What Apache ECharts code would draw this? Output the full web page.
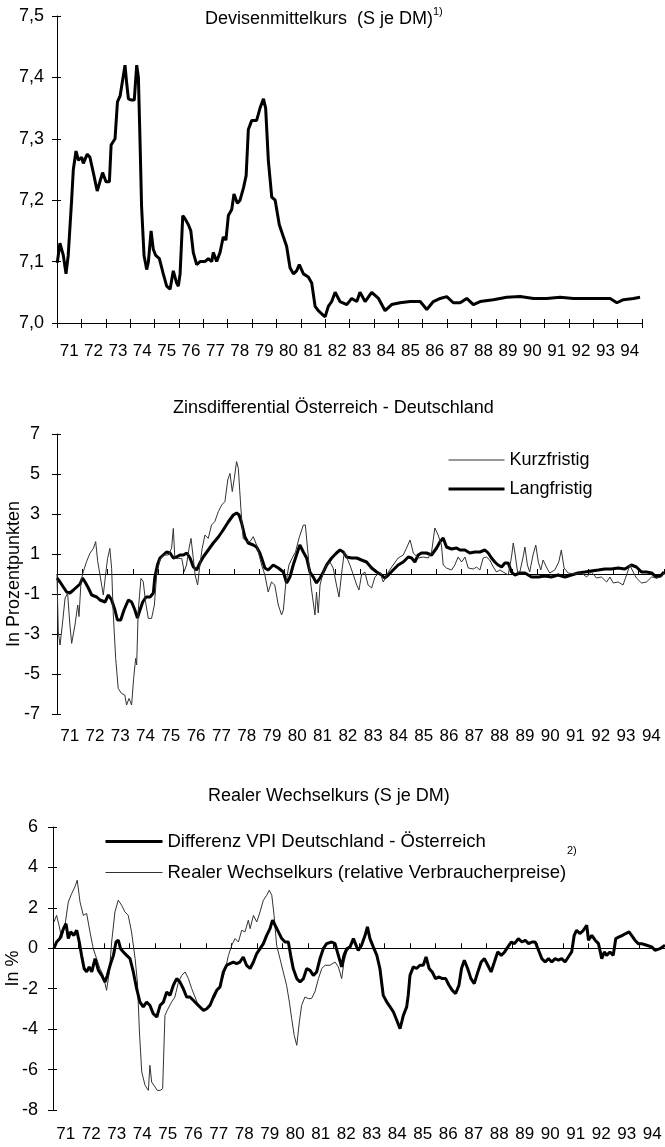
<!DOCTYPE html>
<html>
<head>
<meta charset="utf-8">
<script src="https://cdn.jsdelivr.net/npm/echarts@6/dist/echarts.min.js"></script>
<style>
html,body{margin:0;padding:0;background:#fff;}
#chart{width:665px;height:1147px;}
</style>
</head>
<body>
<div id="chart"></div>
<script>
// ---------- tick labels ----------
const yearLabels = ['71','72','73','74','75','76','77','78','79','80','81','82','83','84','85','86','87','88','89','90','91','92','93','94'];

// ---------- Panel 1: Devisenmittelkurs (S je DM) ----------
const devT = [1971.01,1971.12,1971.26,1971.37,1971.46,1971.60,1971.67,1971.78,1971.88,1972.01,1972.08,1972.24,1972.35,1972.49,1972.65,1972.76,1972.87,1973.01,1973.15,1973.22,1973.38,1973.48,1973.59,1973.69,1973.79,1973.86,1973.93,1974.06,1974.17,1974.27,1974.34,1974.41,1974.47,1974.57,1974.68,1974.75,1974.86,1974.95,1975.05,1975.20,1975.36,1975.50,1975.64,1975.77,1975.91,1975.98,1976.05,1976.16,1976.25,1976.39,1976.49,1976.59,1976.73,1976.87,1977.07,1977.21,1977.35,1977.41,1977.55,1977.69,1977.82,1977.93,1978.03,1978.17,1978.26,1978.40,1978.51,1978.65,1978.76,1978.85,1978.99,1979.19,1979.33,1979.47,1979.56,1979.67,1979.81,1979.95,1980.12,1980.29,1980.42,1980.56,1980.70,1980.83,1980.94,1981.11,1981.31,1981.45,1981.59,1981.72,1981.86,1982.00,1982.13,1982.27,1982.41,1982.61,1982.89,1983.09,1983.30,1983.43,1983.64,1983.91,1984.19,1984.46,1984.73,1985.07,1985.49,1985.90,1986.17,1986.44,1986.72,1986.99,1987.26,1987.54,1987.81,1988.08,1988.36,1988.90,1989.45,1990.00,1990.55,1991.09,1991.64,1992.19,1992.73,1993.28,1993.69,1993.97,1994.24,1994.65,1994.92];
const devV = [7.098,7.13,7.11,7.08,7.11,7.20,7.25,7.28,7.265,7.27,7.26,7.275,7.27,7.245,7.215,7.23,7.245,7.23,7.23,7.29,7.30,7.36,7.37,7.395,7.42,7.39,7.365,7.363,7.363,7.42,7.40,7.29,7.19,7.11,7.087,7.10,7.15,7.12,7.11,7.105,7.08,7.06,7.055,7.085,7.065,7.06,7.08,7.175,7.17,7.16,7.15,7.115,7.095,7.10,7.10,7.105,7.10,7.115,7.10,7.115,7.14,7.135,7.175,7.185,7.21,7.195,7.20,7.22,7.24,7.315,7.33,7.33,7.35,7.365,7.35,7.265,7.205,7.20,7.16,7.14,7.125,7.09,7.08,7.085,7.095,7.08,7.075,7.065,7.027,7.02,7.015,7.01,7.027,7.035,7.05,7.035,7.03,7.04,7.035,7.05,7.035,7.05,7.04,7.02,7.03,7.033,7.035,7.035,7.022,7.035,7.04,7.043,7.033,7.033,7.04,7.03,7.035,7.038,7.042,7.043,7.04,7.04,7.042,7.04,7.04,7.04,7.04,7.033,7.038,7.04,7.042];

// ---------- Panel 2: Zinsdifferential Österreich - Deutschland ----------
const kurzT = [1971.00,1971.05,1971.12,1971.21,1971.32,1971.42,1971.51,1971.58,1971.71,1971.82,1971.87,1971.95,1972.04,1972.17,1972.30,1972.44,1972.53,1972.61,1972.70,1972.83,1972.92,1973.00,1973.09,1973.16,1973.22,1973.32,1973.42,1973.55,1973.68,1973.75,1973.85,1973.95,1974.03,1974.11,1974.15,1974.21,1974.32,1974.41,1974.50,1974.61,1974.74,1974.85,1974.94,1975.07,1975.20,1975.40,1975.53,1975.60,1975.66,1975.80,1975.93,1976.03,1976.12,1976.22,1976.30,1976.39,1976.46,1976.56,1976.65,1976.74,1976.85,1976.98,1977.11,1977.24,1977.38,1977.51,1977.64,1977.75,1977.84,1977.93,1978.01,1978.10,1978.17,1978.27,1978.36,1978.50,1978.63,1978.76,1978.89,1978.96,1979.09,1979.22,1979.35,1979.48,1979.61,1979.75,1979.88,1979.95,1980.04,1980.17,1980.30,1980.43,1980.57,1980.74,1980.82,1980.93,1981.04,1981.13,1981.20,1981.26,1981.33,1981.40,1981.53,1981.66,1981.79,1981.92,1982.05,1982.15,1982.26,1982.36,1982.45,1982.58,1982.72,1982.85,1982.94,1983.04,1983.17,1983.30,1983.44,1983.57,1983.77,1983.90,1984.10,1984.29,1984.49,1984.69,1984.82,1984.96,1985.09,1985.28,1985.48,1985.68,1985.81,1985.94,1986.07,1986.20,1986.27,1986.40,1986.60,1986.73,1986.86,1987.00,1987.13,1987.26,1987.46,1987.59,1987.72,1987.85,1987.98,1988.11,1988.25,1988.38,1988.51,1988.64,1988.84,1988.97,1989.04,1989.10,1989.21,1989.30,1989.43,1989.50,1989.60,1989.69,1989.82,1989.93,1990.03,1990.13,1990.22,1990.35,1990.48,1990.68,1990.84,1990.94,1991.05,1991.21,1991.47,1991.74,1991.94,1992.13,1992.33,1992.53,1992.73,1992.86,1992.99,1993.19,1993.38,1993.52,1993.65,1993.78,1993.91,1994.11,1994.31,1994.51,1994.70,1994.90,1995.00];
const kurzV = [0.0,-2.9,-3.55,-2.55,-1.2,-0.97,-2.55,-3.47,-2.55,-1.55,-2.13,-0.38,0.12,0.62,1.03,1.28,1.62,0.62,-0.05,-1.05,-0.05,0.78,1.28,0.28,-1.88,-4.22,-5.72,-5.97,-6.05,-6.55,-6.22,-6.55,-5.22,-4.22,-4.55,-1.88,-0.22,-0.38,-1.38,-2.22,-2.22,-1.55,-0.05,0.7,0.95,0.95,1.28,2.28,0.78,0.78,0.78,0.12,0.45,1.28,1.78,0.78,-0.05,-0.55,0.45,1.28,1.95,1.78,2.45,2.62,3.12,3.45,3.62,4.7,5.03,4.12,4.78,5.62,5.28,3.28,1.78,1.62,1.62,1.87,1.45,1.1,0.45,-0.05,-0.9,-0.4,-0.55,-1.55,-2.05,-1.8,-0.55,0.45,0.8,1.1,1.8,2.45,2.45,0.95,-0.55,-1.4,-2.05,-0.9,-1.95,-0.55,0.1,0.45,0.6,0.3,-0.55,-1.15,0.1,1.1,0.85,0.45,-0.05,-0.55,-0.8,-0.05,0.1,-0.55,-0.7,-0.15,0.1,-0.4,0.1,0.45,0.8,0.95,1.3,1.7,1.05,0.8,0.85,0.8,1.1,2.3,1.95,1.45,0.45,0.3,0.2,0.45,0.85,0.6,0.85,0.3,0.25,0.35,0.2,0.8,0.85,0.7,0.35,0.1,0.2,0.1,-0.05,0.85,1.55,1.1,0.1,0.1,0.85,1.35,0.45,0.1,0.95,1.45,0.6,0.2,0.7,0.35,0.05,0.2,0.6,1.2,0.3,0.05,0.0,0.05,-0.15,0.1,-0.2,-0.15,-0.4,-0.15,-0.45,-0.4,-0.55,-0.05,0.45,0.1,-0.2,-0.45,-0.4,-0.15,-0.2,-0.15,0.05];

const langT = [1971.00,1971.12,1971.25,1971.38,1971.51,1971.65,1971.78,1971.91,1972.01,1972.11,1972.24,1972.37,1972.57,1972.70,1972.90,1973.03,1973.16,1973.29,1973.39,1973.52,1973.65,1973.82,1973.95,1974.08,1974.18,1974.28,1974.39,1974.52,1974.68,1974.81,1974.87,1974.97,1975.07,1975.20,1975.33,1975.47,1975.60,1975.73,1975.86,1976.00,1976.13,1976.26,1976.39,1976.52,1976.65,1976.78,1976.98,1977.18,1977.38,1977.57,1977.77,1977.97,1978.10,1978.20,1978.30,1978.43,1978.56,1978.76,1978.89,1979.02,1979.09,1979.22,1979.35,1979.55,1979.75,1979.95,1980.08,1980.21,1980.34,1980.47,1980.60,1980.74,1980.87,1981.00,1981.13,1981.26,1981.40,1981.53,1981.66,1981.86,1982.05,1982.19,1982.32,1982.45,1982.65,1982.85,1983.04,1983.24,1983.44,1983.64,1983.83,1983.96,1984.10,1984.29,1984.49,1984.69,1984.89,1985.02,1985.15,1985.28,1985.41,1985.61,1985.81,1986.01,1986.14,1986.27,1986.40,1986.60,1986.80,1986.93,1987.13,1987.32,1987.52,1987.72,1987.92,1988.05,1988.18,1988.31,1988.44,1988.58,1988.71,1988.84,1988.97,1989.10,1989.30,1989.50,1989.76,1990.03,1990.29,1990.55,1990.81,1991.08,1991.34,1991.60,1991.87,1992.13,1992.40,1992.66,1992.92,1993.19,1993.45,1993.71,1993.91,1994.11,1994.31,1994.51,1994.70,1994.90,1995.00];
const langV = [-0.2,-0.4,-0.65,-0.9,-0.95,-0.8,-0.65,-0.5,-0.2,-0.4,-0.7,-1.05,-1.15,-1.3,-1.4,-1.05,-1.3,-1.8,-2.3,-2.3,-1.8,-1.3,-1.4,-1.8,-2.2,-1.8,-1.4,-1.15,-1.15,-0.95,-0.15,0.45,0.8,0.95,1.1,1.05,0.8,0.85,0.95,0.95,1.05,0.8,0.35,0.2,0.55,0.85,1.2,1.55,1.85,2.2,2.6,2.95,3.05,2.95,2.55,1.85,1.55,1.45,1.35,1.05,0.8,0.3,0.2,0.45,0.3,0.1,-0.45,-0.15,0.45,0.95,1.45,1.1,0.8,0.1,-0.15,-0.45,-0.2,0.1,0.45,0.8,1.05,1.2,1.1,0.85,0.8,0.8,0.7,0.6,0.3,0.1,-0.05,-0.2,-0.05,0.2,0.45,0.6,0.85,0.8,0.6,0.95,1.05,1.05,0.95,1.3,1.6,1.8,1.35,1.25,1.3,1.2,1.2,1.05,1.1,1.1,1.2,1.05,0.8,0.6,0.45,0.35,0.55,0.55,0.1,-0.05,0.05,0.05,-0.15,-0.15,-0.1,-0.15,-0.05,-0.15,-0.05,0.05,0.1,0.15,0.2,0.25,0.25,0.3,0.25,0.45,0.35,0.1,0.1,0.05,-0.15,-0.05,0.1];

// ---------- Panel 3: Realer Wechselkurs (S je DM) ----------
const vpiT = [1971.04,1971.14,1971.27,1971.41,1971.51,1971.60,1971.69,1971.82,1971.93,1972.03,1972.12,1972.22,1972.32,1972.42,1972.52,1972.65,1972.78,1972.91,1973.04,1973.13,1973.24,1973.37,1973.47,1973.56,1973.65,1973.76,1973.89,1974.02,1974.15,1974.28,1974.41,1974.54,1974.67,1974.80,1974.93,1975.07,1975.20,1975.33,1975.46,1975.59,1975.72,1975.85,1975.98,1976.11,1976.24,1976.37,1976.50,1976.63,1976.76,1976.90,1977.03,1977.16,1977.29,1977.42,1977.55,1977.68,1977.81,1977.94,1978.07,1978.20,1978.33,1978.46,1978.59,1978.73,1978.86,1978.99,1979.12,1979.25,1979.38,1979.51,1979.61,1979.71,1979.84,1979.97,1980.10,1980.23,1980.32,1980.42,1980.56,1980.69,1980.82,1980.95,1981.08,1981.21,1981.34,1981.47,1981.60,1981.73,1981.93,1982.06,1982.19,1982.32,1982.41,1982.52,1982.65,1982.78,1982.91,1982.97,1983.10,1983.24,1983.33,1983.43,1983.56,1983.70,1983.82,1983.95,1984.09,1984.22,1984.35,1984.48,1984.61,1984.74,1984.87,1984.93,1985.00,1985.13,1985.26,1985.39,1985.52,1985.63,1985.75,1985.87,1986.00,1986.14,1986.27,1986.40,1986.53,1986.66,1986.79,1986.92,1987.02,1987.13,1987.26,1987.39,1987.52,1987.66,1987.79,1987.92,1988.05,1988.18,1988.31,1988.44,1988.58,1988.71,1988.84,1988.97,1989.10,1989.25,1989.39,1989.52,1989.65,1989.78,1989.91,1990.04,1990.17,1990.30,1990.43,1990.56,1990.69,1990.82,1990.95,1991.08,1991.21,1991.34,1991.44,1991.53,1991.66,1991.80,1991.93,1992.00,1992.13,1992.26,1992.39,1992.52,1992.62,1992.71,1992.84,1992.97,1993.07,1993.20,1993.33,1993.46,1993.59,1993.69,1993.82,1993.95,1994.08,1994.28,1994.48,1994.61,1994.80,1995.00];
const vpiV = [0.0,0.31,0.48,0.97,1.22,0.48,0.81,0.64,0.89,0.31,-0.35,-1.0,-1.17,-0.92,-1.17,-0.51,-1.09,-1.34,-1.67,-1.34,-0.84,-0.35,0.31,0.40,-0.02,-0.18,-0.35,-0.51,-1.17,-2.0,-2.66,-2.9,-2.66,-2.82,-3.23,-3.4,-2.82,-2.66,-2.16,-2.33,-1.83,-1.5,-1.67,-2.0,-2.41,-2.41,-2.57,-2.74,-2.9,-3.07,-2.99,-2.82,-2.41,-2.08,-1.91,-1.17,-0.84,-0.76,-0.68,-0.76,-0.68,-0.43,-0.84,-1.0,-0.68,-0.26,-0.02,0.23,0.64,0.97,1.39,1.14,0.81,0.48,0.31,0.31,-0.35,-1.0,-1.5,-1.67,-1.5,-1.0,-1.09,-1.34,-1.17,-0.51,-0.02,0.23,0.31,0.23,-0.35,-0.92,-0.35,-0.02,0.07,0.48,0.07,-0.1,0.15,0.64,1.06,0.48,0.07,-0.35,-1.0,-2.33,-2.66,-2.9,-3.15,-3.56,-3.98,-3.32,-2.9,-2.33,-1.34,-0.92,-1.0,-0.84,-0.84,-0.43,-1.0,-1.17,-1.5,-1.42,-1.5,-1.5,-1.83,-2.08,-2.24,-1.83,-1.0,-0.59,-1.0,-1.5,-1.75,-1.17,-0.68,-0.51,-0.84,-1.17,-0.68,-0.18,-0.35,-0.18,0.07,0.31,0.23,0.48,0.31,0.4,0.23,0.31,0.31,-0.1,-0.51,-0.68,-0.51,-0.68,-0.51,-0.59,-0.51,-0.68,-0.43,-0.18,0.64,0.89,0.73,0.89,1.14,0.4,0.64,0.4,0.23,-0.51,-0.18,-0.35,-0.18,-0.35,0.48,0.56,0.64,0.73,0.81,0.64,0.4,0.23,0.23,0.15,0.07,-0.1,-0.02,0.15];

// Realer Wechselkurs: own readings until 1982; afterwards it runs on top of the VPI line
const realT = [1971.04,1971.14,1971.25,1971.34,1971.47,1971.60,1971.73,1971.86,1971.95,1972.06,1972.19,1972.32,1972.45,1972.58,1972.71,1972.84,1972.97,1973.10,1973.21,1973.30,1973.43,1973.56,1973.69,1973.82,1973.95,1974.08,1974.22,1974.31,1974.39,1974.48,1974.61,1974.74,1974.80,1974.87,1975.00,1975.09,1975.20,1975.30,1975.39,1975.48,1975.65,1975.78,1975.92,1976.05,1976.18,1976.31,1976.44,1976.57,1976.70,1976.83,1976.96,1977.09,1977.22,1977.35,1977.48,1977.61,1977.75,1977.88,1978.01,1978.14,1978.27,1978.40,1978.53,1978.66,1978.73,1978.86,1978.99,1979.12,1979.25,1979.38,1979.48,1979.58,1979.67,1979.77,1979.90,1980.03,1980.16,1980.27,1980.36,1980.46,1980.56,1980.66,1980.75,1980.88,1981.01,1981.14,1981.27,1981.41,1981.54,1981.67,1981.86,1982.06,1982.19,1982.32,1982.41,1982.52,1982.65,1982.78,1982.91];
const realV = [1.3,1.63,1.06,0.5,1.14,2.29,2.7,3.04,3.37,2.29,1.63,1.72,0.81,-0.02,-0.51,-1.0,-1.34,-2.08,-1.17,0.31,1.8,2.38,2.13,1.8,1.63,0.81,-0.51,-1.67,-4.14,-6.12,-6.78,-7.03,-5.79,-6.62,-6.86,-7.03,-7.03,-6.95,-3.32,-3.07,-2.66,-2.41,-1.67,-1.34,-1.17,-1.5,-2.0,-2.41,-2.82,-2.99,-3.07,-2.82,-2.66,-2.41,-2.0,-1.67,-1.09,-0.35,0.15,0.48,0.31,0.89,0.81,1.39,0.97,1.63,1.3,1.8,2.38,2.62,2.87,2.62,1.63,0.15,-0.51,-1.17,-1.83,-2.66,-3.48,-4.31,-4.8,-3.65,-2.82,-2.41,-2.49,-2.49,-2.16,-1.5,-1.0,-0.84,-0.84,-0.68,-0.92,-1.5,-0.68,-0.18,0.07,0.48,0.07];

// ---------- build ----------
const pairs = (t, v) => t.map((x, i) => [x, v[i]]);
const devData = pairs(devT, devV);
const kurzData = pairs(kurzT, kurzV);
const langData = pairs(langT, langV);
const vpiData = pairs(vpiT, vpiV);
const lastReal = realT[realT.length - 1];
const realData = pairs(realT, realV).concat(vpiData.filter(p => p[0] > lastReal));

const FONT = "'Liberation Sans', Arial, Helvetica, sans-serif";
const BLACK = '#000';

function dataX(grid, onZero, tickInside) {
  return {
    type: 'value', gridIndex: grid, position: 'bottom', min: 1971, max: 1995, interval: 1,
    axisLine: { show: true, onZero: onZero, lineStyle: { color: BLACK, width: 1 } },
    axisTick: { show: true, inside: tickInside, length: 5, lineStyle: { color: BLACK } },
    axisLabel: { show: false }, splitLine: { show: false }
  };
}
function tickX(grid, onZero) {
  return {
    type: 'value', gridIndex: grid, position: 'bottom', min: 1971, max: 1995, interval: 1,
    axisLine: { show: false, onZero: onZero },
    axisTick: { show: true, inside: true, length: 4, lineStyle: { color: BLACK } },
    axisLabel: { show: false }, splitLine: { show: false }
  };
}
function labelX(grid, margin) {
  return {
    type: 'category', gridIndex: grid, position: 'bottom', data: yearLabels, boundaryGap: true,
    axisLine: { show: false, onZero: false }, axisTick: { show: false },
    axisLabel: { show: true, interval: 0, margin: margin, fontSize: 17, color: BLACK, fontFamily: FONT },
    splitLine: { show: false }
  };
}
function valY(grid, min, max, interval, margin, fmt, name, nameGap) {
  const ax = {
    type: 'value', gridIndex: grid, position: 'left', min: min, max: max, interval: interval,
    axisLine: { show: true, lineStyle: { color: BLACK, width: 1 } },
    axisTick: { show: true, length: 5, lineStyle: { color: BLACK } },
    axisLabel: { show: true, margin: margin, fontSize: 18, color: BLACK, fontFamily: FONT, formatter: fmt },
    splitLine: { show: false }
  };
  if (name) {
    ax.name = name; ax.nameLocation = 'middle'; ax.nameGap = nameGap; ax.nameRotate = 90;
    ax.nameMoveOverlap = false;
    ax.nameTextStyle = { fontSize: 18, color: BLACK, fontFamily: FONT };
  }
  return ax;
}
function tickY(grid, min, max, interval) {
  return {
    type: 'value', gridIndex: grid, position: 'left', min: min, max: max, interval: interval,
    axisLine: { show: false }, axisTick: { show: true, inside: true, length: 4, lineStyle: { color: BLACK } },
    axisLabel: { show: false }, splitLine: { show: false }
  };
}

const option = {
  backgroundColor: '#fff',
  animation: false,
  textStyle: { fontFamily: FONT },
  grid: [
    { left: 57, top: 16, width: 585, height: 307, containLabel: false, outerBoundsMode: 'none' },
    { left: 57, top: 434, width: 607, height: 280, containLabel: false, outerBoundsMode: 'none' },
    { left: 53, top: 827, width: 612, height: 283, containLabel: false, outerBoundsMode: 'none' }
  ],
  xAxis: [
    dataX(0, false, false), tickX(0, false), labelX(0, 20),
    dataX(1, true, true), labelX(1, 14),
    dataX(2, true, true), labelX(2, 16)
  ],
  yAxis: [
    valY(0, 7.0, 7.5, 0.1, 13, v => Number(v).toFixed(1).replace('.', ',')), tickY(0, 7.0, 7.5, 0.1),
    valY(1, -7, 7, 2, 17, v => String(v), 'In Prozentpunkten', 34), tickY(1, -7, 7, 2),
    valY(2, -8, 6, 2, 15, v => String(v), 'In %', 31), tickY(2, -8, 6, 2)
  ],
  legend: [
    {
      data: ['Kurzfristig', 'Langfristig'], orient: 'vertical', left: 447, top: 451, padding: 0,
      itemWidth: 56, itemHeight: 14, itemGap: 11, selectedMode: false,
      textStyle: { fontSize: 18, color: BLACK, fontFamily: FONT },
      itemStyle: { opacity: 0, borderWidth: 0 },
      lineStyle: { width: 'inherit', opacity: 1 }
    },
    {
      data: ['Differenz VPI Deutschland - Österreich', 'Realer Wechselkurs (relative Verbraucherpreise)'],
      orient: 'vertical', left: 104, top: 832, padding: 0,
      itemWidth: 57, itemHeight: 14, itemGap: 12, selectedMode: false,
      textStyle: { fontSize: 18.5, color: BLACK, fontFamily: FONT },
      itemStyle: { opacity: 0, borderWidth: 0 },
      lineStyle: { width: 'inherit', opacity: 1 }
    }
  ],
  graphic: [
    { type: 'text', left: 205, top: 10, style: { text: 'Devisenmittelkurs  (S je DM)', font: '18px ' + FONT, fill: BLACK } },
    { type: 'text', left: 433, top: 6, style: { text: '1)', font: '11px ' + FONT, fill: BLACK } },
    { type: 'text', left: 173, top: 399, style: { text: 'Zinsdifferential Österreich - Deutschland', font: '18px ' + FONT, fill: BLACK } },
    { type: 'text', left: 208, top: 787, style: { text: 'Realer Wechselkurs (S je DM)', font: '18px ' + FONT, fill: BLACK } },
    { type: 'text', left: 567, top: 845, style: { text: '2)', font: '11px ' + FONT, fill: BLACK } }
  ],
  series: [
    { name: 'Devisenmittelkurs', type: 'line', xAxisIndex: 0, yAxisIndex: 0, data: devData,
      symbol: 'none', silent: true, lineStyle: { color: BLACK, width: 3 }, itemStyle: { color: BLACK } },
    { name: 'Langfristig', type: 'line', xAxisIndex: 3, yAxisIndex: 2, data: langData,
      symbol: 'none', silent: true, lineStyle: { color: BLACK, width: 3 }, itemStyle: { color: BLACK } },
    { name: 'Kurzfristig', type: 'line', xAxisIndex: 3, yAxisIndex: 2, data: kurzData,
      symbol: 'none', silent: true, lineStyle: { color: '#333', width: 1 }, itemStyle: { color: '#333' } },
    { name: 'Realer Wechselkurs (relative Verbraucherpreise)', type: 'line', xAxisIndex: 5, yAxisIndex: 4, data: realData,
      symbol: 'none', silent: true, lineStyle: { color: '#333', width: 1 }, itemStyle: { color: '#333' } },
    { name: 'Differenz VPI Deutschland - Österreich', type: 'line', xAxisIndex: 5, yAxisIndex: 4, data: vpiData,
      symbol: 'none', silent: true, lineStyle: { color: BLACK, width: 3 }, itemStyle: { color: BLACK } }
  ]
};

const chart = echarts.init(document.getElementById('chart'), null, { renderer: 'canvas' });
chart.setOption(option);
</script>
</body>
</html>
